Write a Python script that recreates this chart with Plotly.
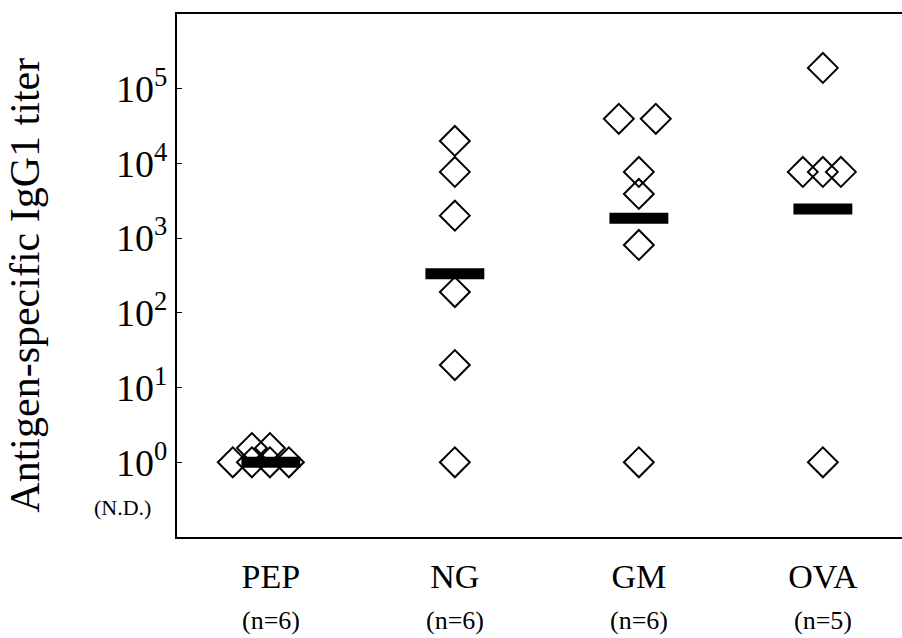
import plotly.graph_objects as go

# ---- data ----
groups = ["PEP", "NG", "GM", "OVA"]
group_n = ["(n=6)", "(n=6)", "(n=6)", "(n=5)"]
group_pos = [1, 2, 3, 4]

pep_vals = [1, 1, 1, 1, 1.55, 1.55]
pep_jit = [-0.207, -0.103, -0.005, 0.098, -0.103, -0.005]
ng_vals = [20000, 7700, 2000, 190, 20, 1]
ng_jit = [0, 0, 0, 0, 0, 0]
gm_vals = [39500, 39500, 7700, 3900, 810, 1]
gm_jit = [-0.109, 0.092, 0, 0, 0, 0]
ova_vals = [190000, 7700, 7700, 7700, 1]
ova_jit = [0, -0.109, 0, 0.098, 0]

medians = [1, 335, 1840, 2460]

y_tick_vals = [1, 10, 100, 1000, 10000, 100000]
y_tick_text = ["10<sup>0</sup>", "10<sup>1</sup>", "10<sup>2</sup>",
               "10<sup>3</sup>", "10<sup>4</sup>", "10<sup>5</sup>"]

FONT = "Liberation Serif, Times New Roman, serif"

fig = go.Figure()

all_vals = [pep_vals, ng_vals, gm_vals, ova_vals]
all_jit = [pep_jit, ng_jit, gm_jit, ova_jit]
for pos, vals, jit in zip(group_pos, all_vals, all_jit):
    fig.add_trace(go.Scatter(
        x=[pos + j for j in jit], y=vals, mode="markers",
        marker=dict(symbol="diamond-open", size=23, color="black",
                    line=dict(width=2, color="black")),
        showlegend=False, hoverinfo="skip"))

# median bars
half = 0.16
bx, by = [], []
for pos, m in zip(group_pos, medians):
    bx += [pos - half, pos + half, None]
    by += [m, m, None]
fig.add_trace(go.Scatter(x=bx, y=by, mode="lines",
                         line=dict(color="black", width=11),
                         showlegend=False, hoverinfo="skip"))

annotations = []
for pos, n in zip(group_pos, group_n):
    annotations.append(dict(x=pos, y=-0.16, xref="x", yref="paper",
                            text=n, showarrow=False,
                            font=dict(family=FONT, size=26, color="black"),
                            xanchor="center", yanchor="middle"))
annotations.append(dict(x=0, y=-0.61, xref="paper", yref="y",
                        text="(N.D.)", showarrow=False, xshift=-24,
                        font=dict(family=FONT, size=22, color="black"),
                        xanchor="right", yanchor="middle"))
annotations.append(dict(x=-0.21, y=0.482, xref="paper", yref="paper",
                        text="Antigen-specific IgG1 titer", textangle=-90,
                        showarrow=False,
                        font=dict(family=FONT, size=42, color="black"),
                        xanchor="center", yanchor="middle"))

fig.update_layout(
    width=902, height=638,
    margin=dict(l=177, r=0, t=14, b=101),
    paper_bgcolor="white", plot_bgcolor="white",
    font=dict(family=FONT, color="black"),
    annotations=annotations,
    xaxis=dict(range=[0.49, 4.43], tickvals=group_pos, ticktext=groups,
               showgrid=False, zeroline=False, showline=True, mirror=True,
               linecolor="black", linewidth=2, ticks="",
               tickfont=dict(family=FONT, size=34, color="black"),
               ticklabelstandoff=8),
    yaxis=dict(type="log", range=[-1, 6], tickvals=y_tick_vals,
               ticktext=y_tick_text, showgrid=False, zeroline=False,
               showline=True, linecolor="black", linewidth=2,
               ticks="inside", ticklen=5, tickcolor="black", tickwidth=1,
               tickfont=dict(family=FONT, size=38, color="black")),
)

fig.write_html("out.html")
